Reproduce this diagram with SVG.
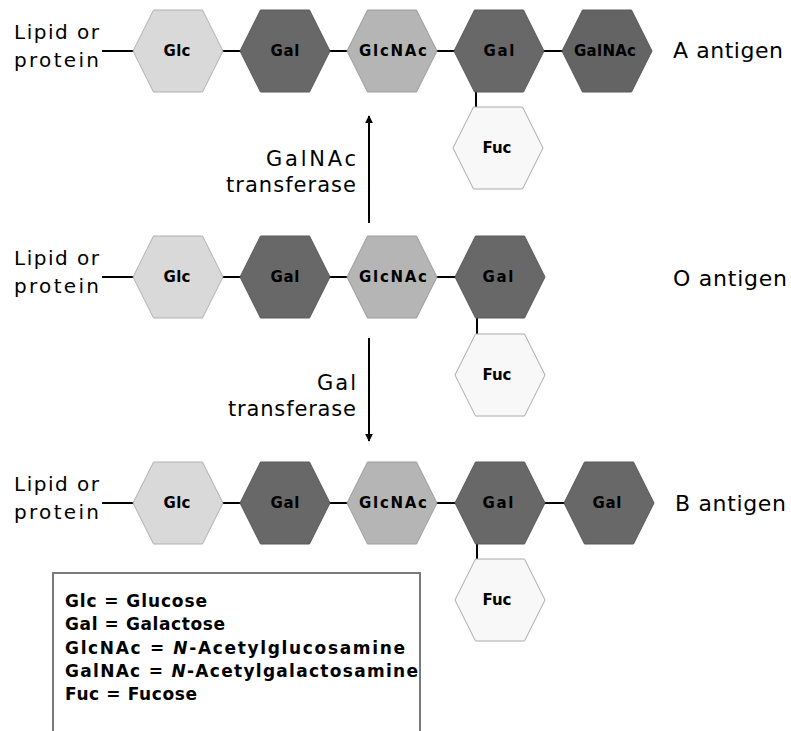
<svg xmlns="http://www.w3.org/2000/svg" xmlns:xlink="http://www.w3.org/1999/xlink" width="791" height="731" viewBox="0 0 791 731">
<style>
.glc{fill:#d9d9d9;stroke:#b0b0b0;stroke-width:1}
.gal{fill:#686868;stroke:#5a5a5a;stroke-width:1}
.glcnac{fill:#b5b5b5;stroke:#9c9c9c;stroke-width:1}
.galnac{fill:#646464;stroke:#585858;stroke-width:1}
.fuc{fill:#f8f8f8;stroke:#aaaaaa;stroke-width:1}
.hl{font-family:"DejaVu Sans","Liberation Sans",sans-serif;font-weight:bold;font-size:15px;fill:#000;text-anchor:middle}
.lab{font-family:"DejaVu Sans","Liberation Sans",sans-serif;font-size:20px;fill:#000}
.ant{font-family:"DejaVu Sans","Liberation Sans",sans-serif;font-size:22px;fill:#000}
.tr{font-family:"DejaVu Sans","Liberation Sans",sans-serif;font-size:21px;fill:#000;text-anchor:end}
.leg{font-family:"DejaVu Sans","Liberation Sans",sans-serif;font-weight:bold;font-size:17px;fill:#000}
.ln{stroke:#000;stroke-width:2;fill:none}
</style>
<defs>
<path id="hex" d="M-45,0 L-24.5,-41 L24.5,-41 L45,0 L24.5,41 L-24.5,41 Z"/>
<marker id="ah" viewBox="0 0 10 10" refX="9" refY="5" markerWidth="4" markerHeight="4" orient="auto" markerUnits="strokeWidth">
<path d="M0,0 L10,5 L0,10 Z" fill="#000"/>
</marker>
</defs>
<rect width="791" height="731" fill="#fff"/>
<g id="connectors">
<line class="ln" x1="102" y1="51" x2="607" y2="51"/>
<line class="ln" x1="476" y1="51" x2="476" y2="110"/>
<line class="ln" x1="102" y1="277" x2="500" y2="277"/>
<line class="ln" x1="477" y1="277" x2="477" y2="337"/>
<line class="ln" x1="102" y1="503" x2="609" y2="503"/>
<line class="ln" x1="477" y1="503" x2="477" y2="562"/>
<line class="ln" x1="369" y1="223" x2="369" y2="116" marker-end="url(#ah)"/>
<line class="ln" x1="369" y1="338" x2="369" y2="441" marker-end="url(#ah)"/>
</g>
<g id="rowA">
<g id="a-glc"><use href="#hex" x="178" y="51" class="glc"/><text class="hl" x="177" y="56" textLength="27">Glc</text></g>
<g id="a-gal1"><use href="#hex" x="285" y="51" class="gal"/><text class="hl" x="285" y="56" textLength="29">Gal</text></g>
<g id="a-glcnac"><use href="#hex" x="392" y="51" class="glcnac"/><text class="hl" x="393" y="56" textLength="68">GlcNAc</text></g>
<g id="a-gal2"><use href="#hex" x="499" y="51" class="gal"/><text class="hl" x="499" y="56" textLength="31">Gal</text></g>
<g id="a-galnac"><use href="#hex" x="607" y="51" class="galnac"/><text class="hl" x="605" y="56" textLength="62">GalNAc</text></g>
<g id="a-fuc"><use href="#hex" x="498" y="148" class="fuc"/><text class="hl" x="497" y="153" textLength="29">Fuc</text></g>
<g id="a-lipid"><text class="lab" x="14" y="39" textLength="85">Lipid or</text><text class="lab" x="14" y="67" textLength="85">protein</text></g>
<g id="a-label"><text class="ant" x="673" y="58" textLength="110">A antigen</text></g>
</g>
<g id="rowO">
<g id="o-glc"><use href="#hex" x="178" y="277" class="glc"/><text class="hl" x="177" y="282" textLength="27">Glc</text></g>
<g id="o-gal1"><use href="#hex" x="285" y="277" class="gal"/><text class="hl" x="285" y="282" textLength="29">Gal</text></g>
<g id="o-glcnac"><use href="#hex" x="392" y="277" class="glcnac"/><text class="hl" x="393" y="282" textLength="68">GlcNAc</text></g>
<g id="o-gal2"><use href="#hex" x="500" y="277" class="gal"/><text class="hl" x="498" y="282" textLength="31">Gal</text></g>
<g id="o-fuc"><use href="#hex" x="500" y="375" class="fuc"/><text class="hl" x="497" y="380" textLength="29">Fuc</text></g>
<g id="o-lipid"><text class="lab" x="14" y="265" textLength="85">Lipid or</text><text class="lab" x="14" y="293" textLength="85">protein</text></g>
<g id="o-label"><text class="ant" x="673" y="286" textLength="114">O antigen</text></g>
</g>
<g id="rowB">
<g id="b-glc"><use href="#hex" x="178" y="503" class="glc"/><text class="hl" x="177" y="508" textLength="27">Glc</text></g>
<g id="b-gal1"><use href="#hex" x="285" y="503" class="gal"/><text class="hl" x="285" y="508" textLength="29">Gal</text></g>
<g id="b-glcnac"><use href="#hex" x="392" y="503" class="glcnac"/><text class="hl" x="393" y="508" textLength="68">GlcNAc</text></g>
<g id="b-gal2"><use href="#hex" x="500" y="503" class="gal"/><text class="hl" x="498" y="508" textLength="31">Gal</text></g>
<g id="b-gal3"><use href="#hex" x="609" y="503" class="gal"/><text class="hl" x="607" y="508" textLength="29">Gal</text></g>
<g id="b-fuc"><use href="#hex" x="500" y="600" class="fuc"/><text class="hl" x="497" y="605" textLength="29">Fuc</text></g>
<g id="b-lipid"><text class="lab" x="14" y="491" textLength="85">Lipid or</text><text class="lab" x="14" y="519" textLength="85">protein</text></g>
<g id="b-label"><text class="ant" x="675" y="511" textLength="111">B antigen</text></g>
</g>
<g id="enzymes">
<text class="tr" x="356" y="166" textLength="90">GalNAc</text>
<text class="tr" x="356" y="192" textLength="130">transferase</text>
<text class="tr" x="356" y="390" textLength="39">Gal</text>
<text class="tr" x="356" y="416" textLength="128">transferase</text>
</g>
<g id="legend">
<rect x="53" y="573" width="367" height="175" fill="#fff" stroke="#7a7a7a" stroke-width="2"/>
<text class="leg" x="65" y="607" textLength="142">Glc = Glucose</text>
<text class="leg" x="65" y="630" textLength="160">Gal = Galactose</text>
<text class="leg" x="65" y="654" textLength="340">GlcNAc = <tspan font-style="italic">N</tspan>-Acetylglucosamine</text>
<text class="leg" x="65" y="677" textLength="353">GalNAc = <tspan font-style="italic">N</tspan>-Acetylgalactosamine</text>
<text class="leg" x="65" y="700" textLength="132">Fuc = Fucose</text>
</g>
</svg>
